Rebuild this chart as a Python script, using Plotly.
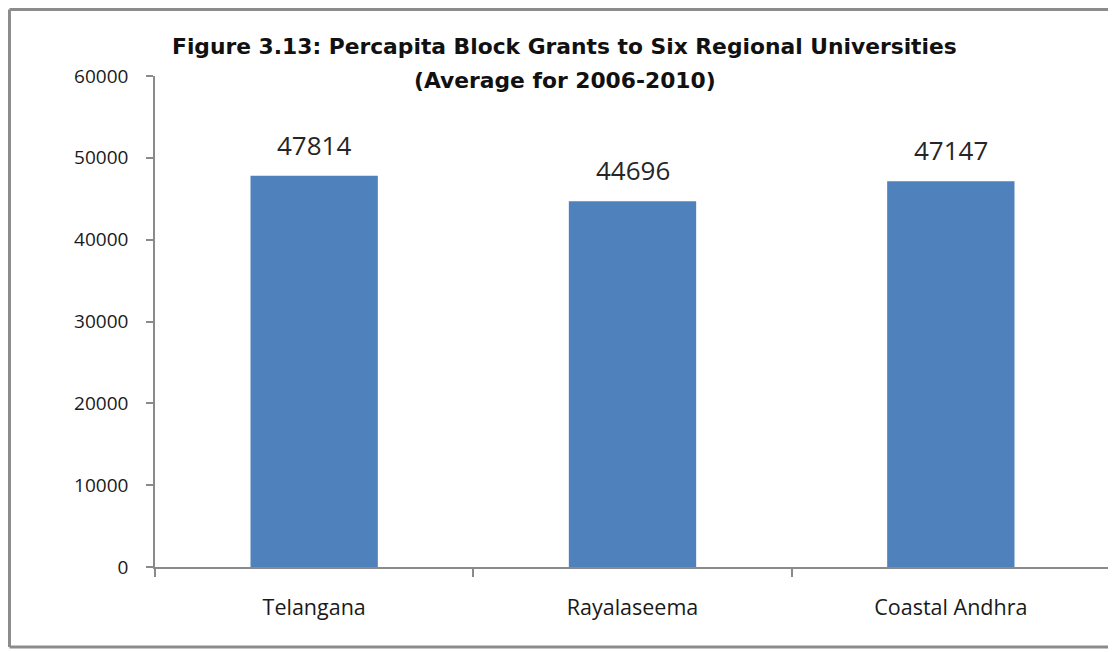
import plotly.graph_objects as go

# data
regions = ['Telangana', 'Rayalaseema', 'Coastal Andhra']
grants = [47814, 44696, 47147]
y_ticks = [0, 10000, 20000, 30000, 40000, 50000, 60000]

title_line1 = 'Figure 3.13: Percapita Block Grants to Six Regional Universities'
title_line2 = '(Average for 2006-2010)'

FONT = 'Open Sans'
TITLE_FONT = 'DejaVu Sans'
AXIS_GREY = '#8a8a8a'

fig = go.Figure(go.Bar(
    x=regions,
    y=grants,
    marker_color='#4F81BD',
    marker_line_width=0,
    width=0.4,
))

# value labels above bars
for r, v in zip(regions, grants):
    fig.add_annotation(x=r, y=v, text=str(v), showarrow=False,
                       yanchor='middle', yshift=31,
                       font=dict(family=FONT, size=26, color='#262626'))

# two-line title
fig.add_annotation(xref='paper', yref='paper', x=0.429, y=1.0, yshift=30,
                   text='<b>' + title_line1 + '</b>', showarrow=False,
                   xanchor='center', yanchor='middle',
                   font=dict(family=TITLE_FONT, size=21.8, color='#111111'))
fig.add_annotation(xref='paper', yref='paper', x=0.429, y=1.0, yshift=-4,
                   text='<b>' + title_line2 + '</b>', showarrow=False,
                   xanchor='center', yanchor='middle',
                   font=dict(family=TITLE_FONT, size=21.8, color='#111111'))

# outer frame (left, top, bottom)
frame = dict(type='line', xref='paper', yref='paper',
             line=dict(color='#8c8c8c', width=3))
fig.add_shape(frame, x0=-0.1524, x1=-0.1524, y0=-0.163, y1=1.1354)
fig.add_shape(frame, x0=-0.1524, x1=1.01, y0=1.1354, y1=1.1354)
fig.add_shape(frame, x0=-0.1524, x1=1.01, y0=-0.163, y1=-0.163)

# page body adds an 8px offset, so the figure is sized/margined to compensate
fig.update_layout(
    width=1108, height=644,
    margin=dict(l=147, r=6, t=68, b=85),
    plot_bgcolor='white', paper_bgcolor='white',
    showlegend=False,
    font=dict(family=FONT, color='#1a1a1a'),
)
fig.update_xaxes(
    showline=True, linecolor=AXIS_GREY, linewidth=1.5,
    ticks='outside', tickson='boundaries', ticklen=8, tickcolor=AXIS_GREY,
    tickwidth=1.5, showgrid=False,
    tickfont=dict(family=FONT, size=21.5, color='#1a1a1a'),
    ticklabelstandoff=20,
)
fig.update_yaxes(
    range=[0, 60000], tickvals=y_ticks, tickformat='d',
    showline=True, linecolor=AXIS_GREY, linewidth=1.5,
    ticks='outside', ticklen=7, tickcolor=AXIS_GREY, tickwidth=1.5,
    showgrid=False, zeroline=False,
    tickfont=dict(family=FONT, size=19, color='#1a1a1a'),
    ticklabelstandoff=14,
)

fig.write_html('out.html')
